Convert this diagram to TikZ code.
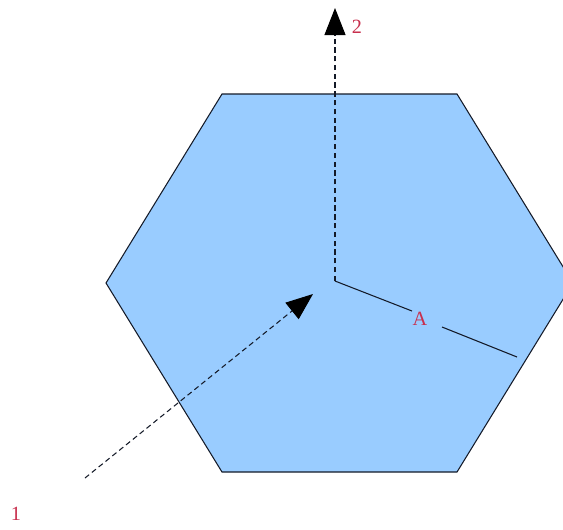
\documentclass[tikz,border=0pt]{standalone}
\usepackage{fontspec}
\setmainfont{Liberation Serif}
\usepackage{xcolor}
\usetikzlibrary{arrows.meta}
\definecolor{hexfill}{HTML}{99CCFF}
\definecolor{hexline}{HTML}{141A28}
\definecolor{lblred}{HTML}{C8304E}

\begin{document}
\begin{tikzpicture}[x=0.02cm,y=-0.02cm,
  cell/.style={draw=hexline,fill=hexfill,line width=0.6pt,line join=miter},
  ray/.style={draw=hexline,line width=0.6pt,dash pattern=on 3pt off 2pt},
  arr/.style={-{Triangle[length=0.54cm,width=0.42cm,color=black]}},
  solidray/.style={draw=hexline,line width=0.6pt},
  lbl/.style={font=\fontsize{11.5}{13}\selectfont,text=lblred,inner sep=0pt}
]
\useasboundingbox (0,0) rectangle (563,529);
\clip (0,0) rectangle (563,529);

% Hexagon
\draw[cell] (222,94) -- (457,94) -- (573,283) -- (457,472) -- (222,472) -- (106,283) -- cycle;

% Points
\coordinate (o) at (335,281);
\coordinate (top) at (335,8);
\coordinate (start) at (85,478);
\coordinate (tip) at (313,294);
\coordinate (gapL) at (412,311);
\coordinate (gapR) at (442,327);
\coordinate (aEnd) at (517,357);

% Rays
\draw[ray,arr] (o) -- (top);
\draw[ray,arr] (start) -- (tip);
\draw[solidray] (o) -- (gapL);
\draw[solidray] (gapR) -- (aEnd);

% Labels
\node[lbl] (lbl2) at (357,27) {2};
\node[lbl] (lblA) at (420,319) {A};
\node[lbl] (lbl1) at (16,514) {1};

\end{tikzpicture}
\end{document}
